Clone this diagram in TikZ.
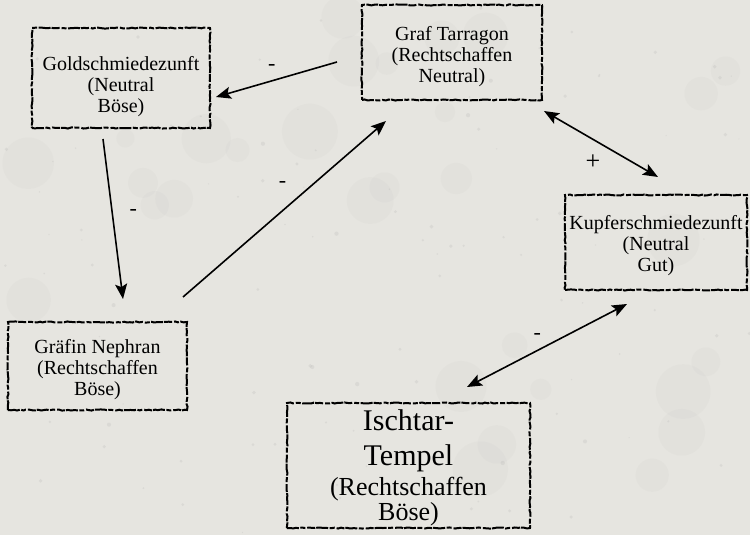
\documentclass[tikz,border=0pt]{standalone}
\usepackage{fontspec}
\setmainfont{Liberation Serif}
\usetikzlibrary{arrows.meta,decorations.pathmorphing}
\definecolor{parchment}{RGB}{230,229,224}
\newcommand{\firstgap}[1]{\rule{0pt}{#1}}

\begin{document}
\begin{tikzpicture}[
		x=1pt, y=-1pt,
		>={Stealth[length=15pt,width=12pt,inset=3pt]},
		faction/.style={draw=black, line width=2pt, inner sep=0pt, align=center,
			font=\rmfamily\fontsize{20}{21}\selectfont,
			decorate, decoration={random steps,segment length=3pt,amplitude=.55pt},
			dash pattern=on 12pt off 1.5pt on 5pt off 2pt on 8pt off 1pt},
		relation/.style={line width=1.6pt},
		sign/.style={font=\rmfamily\fontsize{22}{22}\selectfont, inner sep=0pt},
		spot/.style={fill=gray!80, opacity=.15},
		blot/.style={fill=gray, opacity=.03}
	]
		\pgfmathsetseed{7}
		\fill[parchment] (0,0) rectangle (750,535);
		\useasboundingbox (0,0) rectangle (750,535);
		% paper texture
		\foreach \i in {1,...,30} {
			\pgfmathsetmacro\r{8+20*rnd}
			\fill[blot] ({750*rnd},{535*rnd}) circle (\r pt);
		}
		\foreach \i in {1,...,110} {
			\pgfmathsetmacro\r{.6+1.6*rnd}
			\fill[spot] ({750*rnd},{535*rnd}) circle (\r pt);
		}

		% factions
		\node[faction, minimum width=178pt, minimum height=100pt] (gold) at (121,78)
			{\firstgap{31.7pt}Goldschmiedezunft\\(Neutral\\Böse)};
		\node[faction, minimum width=180pt, minimum height=95pt] (graf) at (452,52.5)
			{\firstgap{22.7pt}Graf Tarragon\\(Rechtschaffen\\Neutral)};
		\node[faction, minimum width=182pt, minimum height=95pt] (kupfer) at (656,242.5)
			{\firstgap{19.7pt}Kupferschmiedezunft\\(Neutral\\Gut)};
		\node[faction, minimum width=179pt, minimum height=88pt] (graefin) at (97.5,366)
			{\firstgap{21.7pt}Gräfin Nephran\\(Rechtschaffen\\Böse)};
		\node[faction, minimum width=243pt, minimum height=125pt,
			font=\rmfamily\fontsize{26}{25}\selectfont] (ischtar) at (408.5,465.5)
			{\fontsize{30}{35}\selectfont\firstgap{26.5pt}Ischtar-\\[10pt]
			\fontsize{30}{35}\selectfont Tempel\\[5pt](Rechtschaffen\\Böse)};

		% relations
		\draw[relation,->] ([shift={(-24,9.5)}]graf.west) -- ([shift={(5,19)}]gold.east)
			node[sign, pos=.54, yshift=13pt] (s1) {-};
		\draw[relation,->] ([shift={(-18,10)}]gold.south) -- ([shift={(25.5,-22)}]graefin.north)
			node[sign, pos=.46, xshift=21pt] (s2) {-};
		\draw[relation,->] ([shift={(-5,-24)}]graefin.north east) -- ([shift={(25,20)}]graf.south west)
			node[sign, pos=.49, yshift=26pt] (s3) {-};
		\draw[relation,<->] ([shift={(1,10)}]graf.south east) -- ([shift={(2,-17)}]kupfer.north)
			node[sign, pos=.43, yshift=-23pt, font=\rmfamily\fontsize{26}{26}\selectfont] (s4) {+};
		\draw[relation,<->] ([shift={(-29,13)}]kupfer.south) -- ([shift={(58.5,-15)}]ischtar.north)
			node[sign, pos=.56, yshift=14pt] (s5) {-};
\end{tikzpicture}
\end{document}
